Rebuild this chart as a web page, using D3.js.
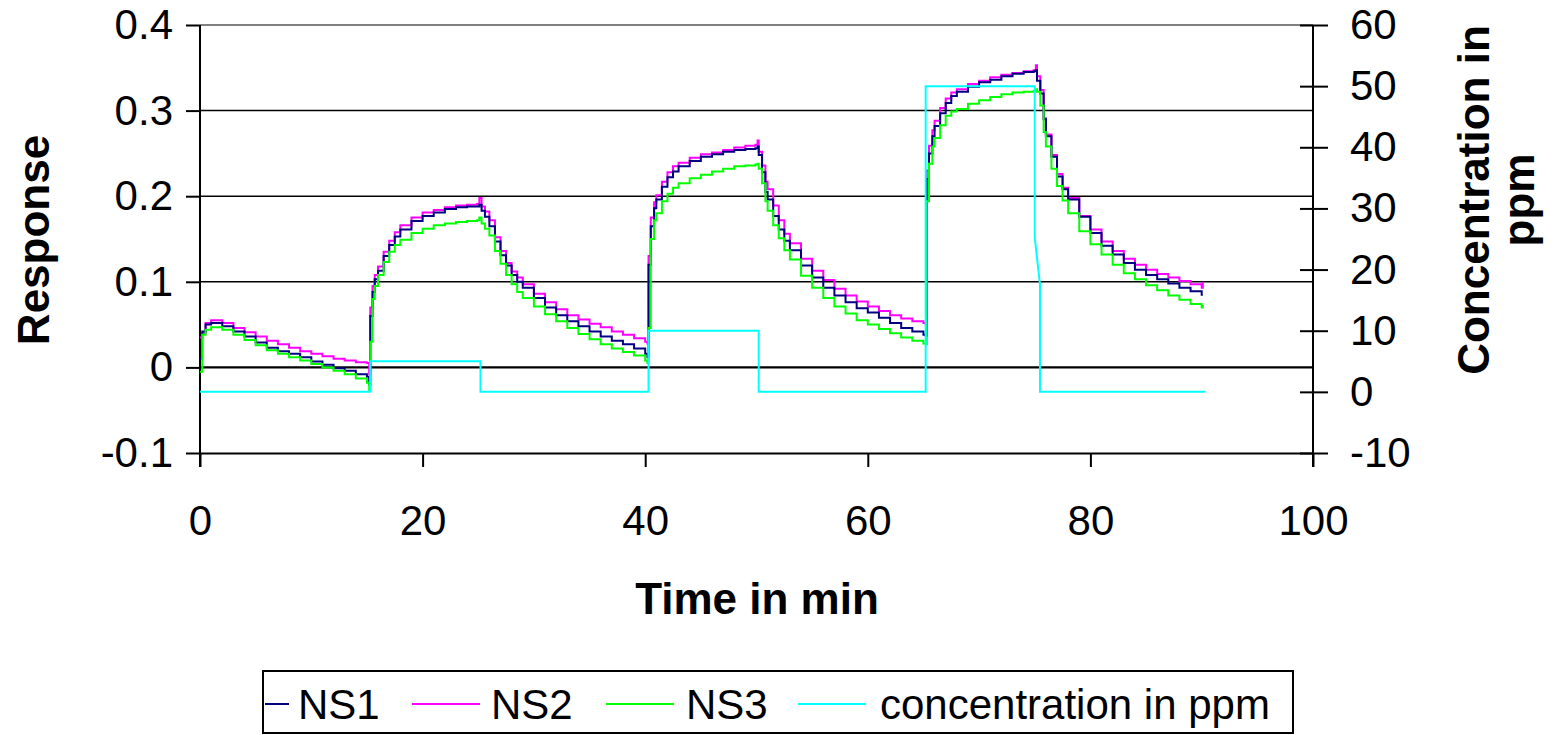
<!DOCTYPE html>
<html>
<head>
<meta charset="utf-8">
<script src="https://cdn.jsdelivr.net/npm/d3@7"></script>
<style>
  body { margin: 0; background: #fff; }
  svg { display: block; font-family: "Liberation Sans", Arial, sans-serif; }
</style>
</head>
<body>
<div id="chart"></div>
<script>
// sample times in minutes (shared by the three sensors)
var time = [
  0, 0.2, 0.5, 1, 2, 3, 4, 5, 6, 7, 8, 9, 10, 11, 12, 13, 14, 15, 15.2,
  15.3, 15.5, 15.7, 16, 16.5, 17, 17.5, 18, 19, 20, 21, 22, 23, 24, 24.9, 25.1,
  25.3, 25.6, 26, 26.5, 27, 27.5, 28, 28.5, 29, 30, 31, 32, 33, 34, 35, 36, 37, 38, 39, 40, 40.2,
  40.3, 40.5, 40.8, 41, 41.5, 42, 42.5, 43, 44, 45, 46, 47, 48, 49, 49.9, 50.1,
  50.2, 50.5, 50.8, 51, 51.5, 52, 52.5, 53, 54, 55, 56, 57, 58, 59, 60, 61, 62, 63, 64, 65, 65.2,
  65.3, 65.5, 65.8, 66, 66.5, 67, 67.5, 68, 69, 70, 71, 72, 73, 74, 74.9, 75.1,
  75.2, 75.5, 75.8, 76, 76.5, 77, 77.5, 78, 79, 80, 81, 82, 83, 84, 85, 86, 87, 88, 89, 90, 90.1
];

var ns1 = [
  0.01, 0.042, 0.05, 0.052, 0.048, 0.042, 0.036, 0.029, 0.023, 0.019, 0.016, 0.012, 0.007, 0.003, -0.001, -0.004, -0.008, -0.011, -0.02,
  0.06, 0.088, 0.103, 0.113, 0.13, 0.143, 0.153, 0.161, 0.171, 0.177, 0.181, 0.185, 0.187, 0.188, 0.188, 0.19,
  0.183, 0.176, 0.165, 0.147, 0.131, 0.119, 0.108, 0.1, 0.093, 0.081, 0.07, 0.061, 0.054, 0.048, 0.042, 0.036, 0.031, 0.027, 0.022, 0.016, 0.012,
  0.12, 0.165, 0.186, 0.196, 0.211, 0.222, 0.229, 0.235, 0.241, 0.246, 0.249, 0.252, 0.254, 0.255, 0.256, 0.258,
  0.248, 0.228, 0.205, 0.196, 0.177, 0.161, 0.148, 0.137, 0.119, 0.105, 0.093, 0.084, 0.076, 0.069, 0.064, 0.058, 0.052, 0.046, 0.042, 0.038, 0.037,
  0.22, 0.25, 0.27, 0.282, 0.297, 0.309, 0.317, 0.322, 0.328, 0.333, 0.336, 0.34, 0.343, 0.345, 0.346, 0.347,
  0.335, 0.32, 0.29, 0.27, 0.246, 0.223, 0.208, 0.196, 0.176, 0.157, 0.142, 0.132, 0.122, 0.114, 0.108, 0.103, 0.098, 0.093, 0.089, 0.085, 0.085
];

var ns2 = [
  0.035, 0.04, 0.052, 0.055, 0.052, 0.046, 0.041, 0.036, 0.031, 0.027, 0.023, 0.019, 0.016, 0.013, 0.01, 0.008, 0.006, 0.005, -0.008,
  0.07, 0.095, 0.108, 0.118, 0.135, 0.148, 0.158, 0.166, 0.175, 0.181, 0.184, 0.187, 0.189, 0.19, 0.191, 0.198,
  0.188, 0.182, 0.172, 0.152, 0.136, 0.122, 0.112, 0.105, 0.097, 0.086, 0.076, 0.068, 0.061, 0.056, 0.051, 0.047, 0.042, 0.038, 0.034, 0.03, 0.028,
  0.13, 0.175, 0.193, 0.201, 0.217, 0.228, 0.235, 0.239, 0.245, 0.249, 0.251, 0.254, 0.257, 0.259, 0.26, 0.265,
  0.252, 0.236, 0.217, 0.208, 0.189, 0.172, 0.156, 0.145, 0.127, 0.113, 0.102, 0.092, 0.084, 0.077, 0.071, 0.066, 0.061, 0.057, 0.054, 0.052, 0.05,
  0.23, 0.259, 0.277, 0.288, 0.303, 0.314, 0.321, 0.325, 0.331, 0.335, 0.339, 0.342, 0.344, 0.346, 0.347, 0.353,
  0.34, 0.324, 0.291, 0.272, 0.248, 0.226, 0.21, 0.198, 0.177, 0.161, 0.147, 0.136, 0.127, 0.12, 0.114, 0.109, 0.105, 0.101, 0.097, 0.093, 0.1
];

var ns3 = [
  -0.005, 0.038, 0.044, 0.047, 0.044, 0.038, 0.032, 0.026, 0.02, 0.016, 0.012, 0.008, 0.004, 0.0, -0.004, -0.008, -0.013, -0.018, -0.027,
  0.03, 0.08, 0.095, 0.108, 0.123, 0.135, 0.143, 0.149, 0.157, 0.162, 0.166, 0.168, 0.17, 0.171, 0.172, 0.175,
  0.168, 0.162, 0.154, 0.136, 0.121, 0.108, 0.097, 0.088, 0.081, 0.071, 0.062, 0.054, 0.046, 0.039, 0.033, 0.027, 0.022, 0.018, 0.014, 0.008, 0.005,
  0.046, 0.15, 0.172, 0.18, 0.194, 0.203, 0.21, 0.215, 0.221, 0.225, 0.229, 0.232, 0.235, 0.236, 0.237, 0.238,
  0.232, 0.215, 0.194, 0.183, 0.166, 0.151, 0.137, 0.126, 0.107, 0.093, 0.081, 0.071, 0.063, 0.055, 0.05, 0.045, 0.04, 0.035, 0.031, 0.028, 0.027,
  0.194, 0.238, 0.258, 0.268, 0.283, 0.294, 0.299, 0.302, 0.308, 0.312, 0.316, 0.319, 0.321, 0.322, 0.323, 0.325,
  0.322, 0.306, 0.275, 0.258, 0.232, 0.212, 0.195, 0.18, 0.159, 0.144, 0.132, 0.12, 0.11, 0.103, 0.096, 0.09, 0.084, 0.079, 0.074, 0.07, 0.073
];

// gas concentration profile (secondary axis)
var concTime  = [0, 15.3, 15.3, 25.2, 25.2, 40.3, 40.3, 50.2, 50.2, 65.2, 65.2, 75.0, 75.0, 75.47, 75.47, 90.3];
var concValue = [0, 0,    5,    5,    0,    0,    10,   10,   0,    0,    50,   50,   25.2, 17.6,  0,     0];

var xTicks = [0, 20, 40, 60, 80, 100];
var yLeftTicks = [-0.1, 0, 0.1, 0.2, 0.3, 0.4];
var yRightTicks = [-10, 0, 10, 20, 30, 40, 50, 60];
var gridValues = [0, 0.1, 0.2, 0.3];

var seriesNames = ['NS1', 'NS2', 'NS3', 'concentration in ppm'];
var seriesColors = ['#000080', '#ff00ff', '#00ff00', '#00ffff'];

var width = 1556, height = 735;
var tickFont = '42px';
var titleFont = '44px';

var svg = d3.select('#chart')
  .append('svg')
  .attr('width', width)
  .attr('height', height);

var x = d3.scaleLinear().domain([0, 100]).range([200, 1313]);
var yL = d3.scaleLinear().domain([-0.1, 0.4]).range([453, 25]);
var yR = d3.scaleLinear().domain([-10, 60]).range([453, 25]);

// horizontal grid lines
svg.append('g')
  .selectAll('line')
  .data(gridValues)
  .enter().append('line')
  .attr('x1', x(0))
  .attr('x2', x(100))
  .attr('y1', function(d){return yL(d);})
  .attr('y2', function(d){return yL(d);})
  .attr('stroke', '#000')
  .attr('stroke-width', function(d){return d === 0 ? 2.2 : 1.5;});

// top border is grey
svg.append('line')
  .attr('x1', x(0)).attr('x2', x(100))
  .attr('y1', yL(0.4)).attr('y2', yL(0.4))
  .attr('stroke', '#808080')
  .attr('stroke-width', 2);

// x axis
var xAxis = svg.append('g')
  .attr('transform', 'translate(0,' + yL(-0.1) + ')')
  .call(d3.axisBottom(x).tickValues(xTicks).tickSize(14).tickPadding(38).tickSizeOuter(0));

// left axis (plain hyphen for negatives, like the original)
var leftAxis = svg.append('g')
  .attr('transform', 'translate(' + x(0) + ',0)')
  .call(d3.axisLeft(yL).tickValues(yLeftTicks).tickSize(14).tickPadding(13).tickSizeOuter(0)
    .tickFormat(function(d){return d === 0 ? '0' : d.toFixed(1);}));

// right axis, ticks cross the line
var rightAxis = svg.append('g')
  .attr('transform', 'translate(' + x(100) + ',0)')
  .call(d3.axisRight(yR).tickValues(yRightTicks).tickSize(15).tickPadding(22).tickSizeOuter(0)
    .tickFormat(function(d){return String(d);}));
rightAxis.selectAll('.tick line').attr('x1', -13);

[xAxis, leftAxis, rightAxis].forEach(function(g){
  g.selectAll('.domain').attr('stroke', '#000').attr('stroke-width', 2);
  g.selectAll('.tick line').attr('stroke', '#000').attr('stroke-width', 2);
  g.selectAll('.tick text')
    .attr('fill', '#000')
    .style('font-size', tickFont)
    .style('font-family', '"Liberation Sans", Arial, sans-serif');
});
// axis lines run past the bottom like the x ticks
leftAxis.select('.domain').attr('d', 'M0,' + yL(0.4) + 'V' + (yL(-0.1) + 14));
rightAxis.select('.domain').attr('d', 'M0,' + yR(60) + 'V' + (yR(-10) + 14));

// sensor response lines
var responseLine = function(values) {
  return d3.line()
    .x(function(d, i){return x(time[i]);})
    .y(function(d){return yL(d);})
    .curve(d3.curveStepAfter)(values);
};

var drawOrder = [
  {values: ns2, color: seriesColors[1]},
  {values: ns1, color: seriesColors[0]},
  {values: ns3, color: seriesColors[2]}
];
drawOrder.forEach(function(s){
  svg.append('path')
    .attr('d', responseLine(s.values))
    .attr('fill', 'none')
    .attr('stroke', s.color)
    .attr('stroke-width', 2);
});

// concentration on the right axis
var concLine = d3.line()
  .x(function(d, i){return x(concTime[i]);})
  .y(function(d){return yR(d);});
svg.append('path')
  .attr('d', concLine(concValue))
  .attr('fill', 'none')
  .attr('stroke', seriesColors[3])
  .attr('stroke-width', 2);

// axis titles
svg.append('text')
  .attr('transform', 'translate(49,240) rotate(-90)')
  .attr('text-anchor', 'middle')
  .style('font-size', titleFont)
  .style('font-weight', 'bold')
  .text('Response');

svg.append('text')
  .attr('transform', 'translate(1489,200) rotate(-90)')
  .attr('text-anchor', 'middle')
  .style('font-size', titleFont)
  .style('font-weight', 'bold')
  .text('Concentration in');

svg.append('text')
  .attr('transform', 'translate(1534,200) rotate(-90)')
  .attr('text-anchor', 'middle')
  .style('font-size', titleFont)
  .style('font-weight', 'bold')
  .text('ppm');

svg.append('text')
  .attr('x', 757)
  .attr('y', 614)
  .attr('text-anchor', 'middle')
  .style('font-size', titleFont)
  .style('font-weight', 'bold')
  .text('Time in min');

// legend
var legend = svg.append('g');
legend.append('rect')
  .attr('x', 263).attr('y', 671)
  .attr('width', 1030).attr('height', 62)
  .attr('fill', '#fff')
  .attr('stroke', '#000')
  .attr('stroke-width', 2);

var legendLineX = [[265, 289], [412, 480], [606, 674], [798, 866]];
var legendTextX = [298, 491, 686, 880];
var items = legend.selectAll('g.item')
  .data(seriesNames)
  .enter().append('g')
  .attr('class', 'item');
items.append('line')
  .attr('x1', function(d, i){return legendLineX[i][0];})
  .attr('x2', function(d, i){return legendLineX[i][1];})
  .attr('y1', 704).attr('y2', 704)
  .attr('stroke', function(d, i){return seriesColors[i];})
  .attr('stroke-width', 2);
items.append('text')
  .attr('x', function(d, i){return legendTextX[i];})
  .attr('y', 704)
  .attr('dy', '0.35em')
  .style('font-size', tickFont)
  .text(function(d){return d;});
</script>
</body>
</html>
